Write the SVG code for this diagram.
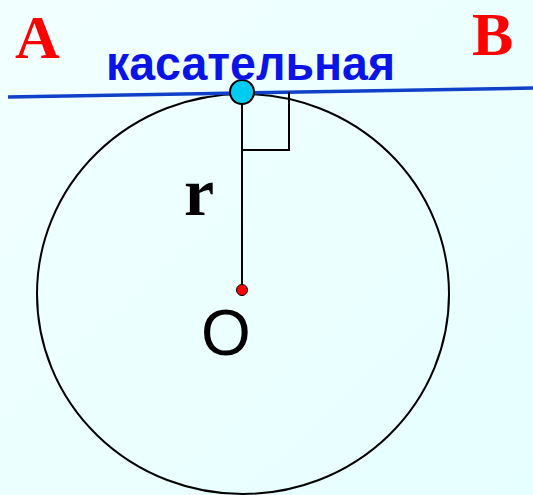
<svg xmlns="http://www.w3.org/2000/svg" width="533" height="495" viewBox="0 0 533 495">
<defs>
<linearGradient id="bg" x1="0" y1="0" x2="1" y2="1">
<stop offset="0" stop-color="#F2FFFF"/>
<stop offset="1" stop-color="#E6FFFF"/>
</linearGradient>
<style>
.lbl{font-family:"Liberation Serif",serif;font-weight:bold;fill:#FF0000;font-size:62px}
.ln{stroke:#000;stroke-width:2;fill:none}
</style>
</defs>
<rect width="533" height="495" fill="url(#bg)"/>
<g id="circle"><ellipse cx="243" cy="294" rx="206" ry="200" class="ln"/></g>
<g id="connectors">
<line x1="8" y1="97" x2="533" y2="88" stroke="#1040C8" stroke-width="3.5"/>
<line x1="242" y1="92" x2="242" y2="290" class="ln"/>
<polyline points="289,92 289,150 242,150" class="ln"/>
</g>
<g id="tangent-point"><circle cx="242" cy="92" r="12" fill="#00CCF2" stroke="#000" stroke-width="2"/></g>
<g id="center"><circle cx="242" cy="290" r="5.5" fill="#FF0000" stroke="#000" stroke-width="1"/></g>
<g id="labels">
<text x="15" y="58" class="lbl">A</text>
<text x="472" y="55" class="lbl">B</text>
<text x="106" y="80" font-family="Liberation Sans,Arial,sans-serif" font-weight="bold" font-size="48" fill="#0A14E6" textLength="289" lengthAdjust="spacingAndGlyphs">касательная</text>
<text x="184" y="215" font-family="Liberation Serif,serif" font-weight="bold" font-size="68" fill="#000">r</text>
<text x="201" y="355" font-family="Liberation Sans,Arial,sans-serif" font-size="64" fill="#000">O</text>
</g>
</svg>
